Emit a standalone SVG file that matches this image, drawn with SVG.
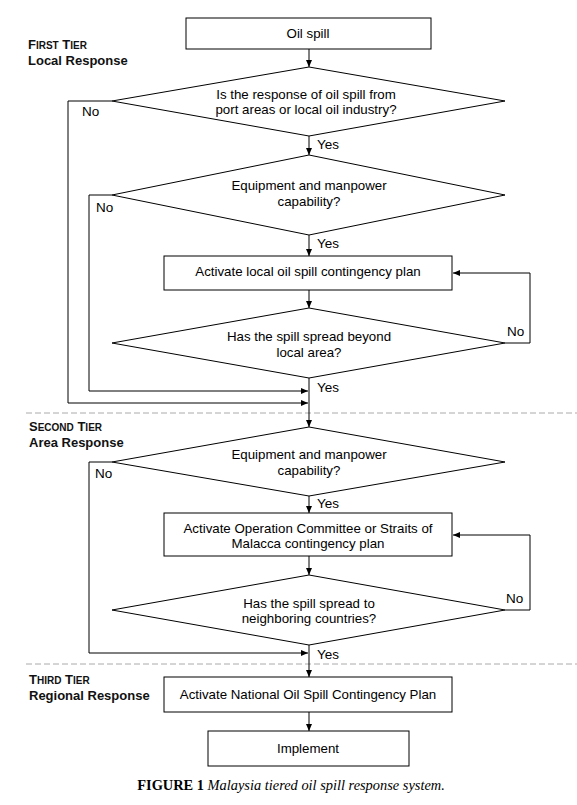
<svg xmlns="http://www.w3.org/2000/svg" width="577" height="805" viewBox="0 0 577 805">
<style>
.s{fill:#fff;stroke:#000;stroke-width:1}
.t{font-family:"Liberation Sans",Arial,sans-serif;font-size:13.3px;fill:#000;text-anchor:middle}
.l{font-family:"Liberation Sans",Arial,sans-serif;font-size:13.5px;fill:#000}
.h{font-family:"Liberation Sans",Arial,sans-serif;font-size:13px;font-weight:bold;fill:#111}
.c{fill:none;stroke:#000;stroke-width:1}
.d{fill:none;stroke:#aaa;stroke-width:1;stroke-dasharray:6,3}
</style>
<defs>
<marker id="a" markerWidth="8" markerHeight="8" refX="7" refY="4" orient="auto" markerUnits="userSpaceOnUse">
<path d="M0,1 L7,4 L0,7 Z" fill="#000"/>
</marker>
</defs>
<rect width="577" height="805" fill="#fff"/>
<g id="tiers">
<line class="d" x1="26" y1="413" x2="577" y2="413"/>
<line class="d" x1="26" y1="664" x2="577" y2="664"/>
<text class="h" x="28" y="48.5">F<tspan font-size="10">IRST</tspan> T<tspan font-size="10">IER</tspan></text>
<text class="h" x="28" y="64.5">Local Response</text>
<text class="h" x="29" y="431">S<tspan font-size="10">ECOND</tspan> T<tspan font-size="10">IER</tspan></text>
<text class="h" x="29" y="447">Area Response</text>
<text class="h" x="29" y="684">T<tspan font-size="10">HIRD</tspan> T<tspan font-size="10">IER</tspan></text>
<text class="h" x="29" y="700">Regional Response</text>
</g>
<g id="connectors">
<line class="c" x1="309" y1="49" x2="309" y2="67" marker-end="url(#a)"/>
<line class="c" x1="309" y1="136" x2="309" y2="155" marker-end="url(#a)"/>
<line class="c" x1="309" y1="235" x2="309" y2="256" marker-end="url(#a)"/>
<line class="c" x1="309" y1="290" x2="309" y2="308" marker-end="url(#a)"/>
<line class="c" x1="309" y1="378" x2="309" y2="427" marker-end="url(#a)"/>
<line class="c" x1="309" y1="496" x2="309" y2="513" marker-end="url(#a)"/>
<line class="c" x1="309" y1="556" x2="309" y2="575" marker-end="url(#a)"/>
<line class="c" x1="309" y1="645" x2="309" y2="677" marker-end="url(#a)"/>
<line class="c" x1="309" y1="712" x2="309" y2="731" marker-end="url(#a)"/>
<polyline class="c" points="112,101 68,101 68,403 308,403" marker-end="url(#a)"/>
<polyline class="c" points="112,195 89,195 89,391 308,391" marker-end="url(#a)"/>
<polyline class="c" points="505,343 530,343 530,273 453,273" marker-end="url(#a)"/>
<polyline class="c" points="112,462 89,462 89,653 308,653" marker-end="url(#a)"/>
<polyline class="c" points="505,610 530,610 530,535 453,535" marker-end="url(#a)"/>
<text class="l" x="82" y="116">No</text>
<text class="l" x="96" y="212">No</text>
<text class="l" x="507" y="336">No</text>
<text class="l" x="95" y="478">No</text>
<text class="l" x="506" y="603">No</text>
<text class="l" x="317" y="149">Yes</text>
<text class="l" x="317" y="248">Yes</text>
<text class="l" x="317" y="392">Yes</text>
<text class="l" x="317" y="508">Yes</text>
<text class="l" x="317" y="659">Yes</text>
</g>
<g id="n1"><rect class="s" x="186" y="18" width="245" height="31"/><text class="t" x="308" y="38">Oil spill</text></g>
<g id="n2"><polygon class="s" points="309,67 505,101 309,136 112,101"/><text class="t" x="306" y="98.5">Is the response of oil spill from</text><text class="t" x="306" y="113.5">port areas or local oil industry?</text></g>
<g id="n3"><polygon class="s" points="309,155 505,195 309,235 112,195"/><text class="t" x="309" y="190">Equipment and manpower</text><text class="t" x="309" y="206">capability?</text></g>
<g id="n4"><rect class="s" x="164" y="256" width="288" height="34"/><text class="t" x="308" y="276">Activate local oil spill contingency plan</text></g>
<g id="n5"><polygon class="s" points="309,308 505,343 309,378 112,343"/><text class="t" x="309" y="341">Has the spill spread beyond</text><text class="t" x="309" y="357">local area?</text></g>
<g id="n6"><polygon class="s" points="309,427 505,462 309,496 112,462"/><text class="t" x="309" y="459">Equipment and manpower</text><text class="t" x="309" y="475">capability?</text></g>
<g id="n7"><rect class="s" x="164" y="513" width="288" height="43"/><text class="t" x="308" y="533">Activate Operation Committee or Straits of</text><text class="t" x="308" y="548">Malacca contingency plan</text></g>
<g id="n8"><polygon class="s" points="309,575 505,610 309,645 112,610"/><text class="t" x="309" y="608">Has the spill spread to</text><text class="t" x="309" y="623">neighboring countries?</text></g>
<g id="n9"><rect class="s" x="164" y="677" width="288" height="35"/><text class="t" x="308" y="699">Activate National Oil Spill Contingency Plan</text></g>
<g id="n10"><rect class="s" x="208" y="731" width="201" height="35"/><text class="t" x="308" y="753">Implement</text></g>
<text x="291" y="790" text-anchor="middle" font-family="'Liberation Serif','Times New Roman',serif" font-size="14.4" fill="#000"><tspan font-weight="bold">FIGURE 1</tspan> <tspan font-style="italic">Malaysia tiered oil spill response system.</tspan></text>
</svg>
